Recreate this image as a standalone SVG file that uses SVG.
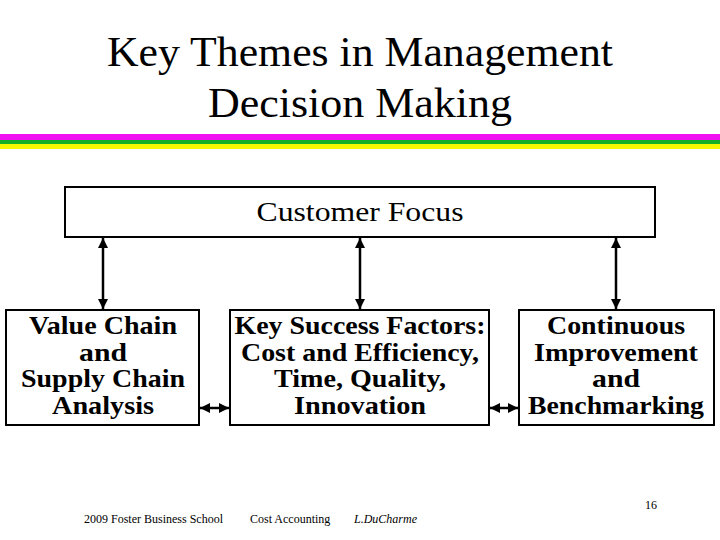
<svg xmlns="http://www.w3.org/2000/svg" width="720" height="540" viewBox="0 0 720 540">
<style>
.box{fill:#fff;stroke:#000;stroke-width:2}
.t{font-family:"Liberation Serif",serif;fill:#000;text-anchor:middle}
.b{font-weight:bold;font-size:25px}
.c line{stroke:#000;stroke-width:2.5}
.f{font-family:"Liberation Serif",serif;font-size:12px}
</style>
<defs><marker id="a" viewBox="0 0 10 10" refX="10" refY="5" markerWidth="4" markerHeight="4" orient="auto-start-reverse"><path d="M0,0L10,5L0,10z"/></marker></defs>
<rect width="720" height="540" fill="#fff"/>
<text class="t" x="360" y="66" font-size="42" textLength="506" lengthAdjust="spacingAndGlyphs">Key Themes in Management</text>
<text class="t" x="360" y="117" font-size="42" textLength="304" lengthAdjust="spacingAndGlyphs">Decision Making</text>
<rect x="0" y="134" width="720" height="6" fill="#f010f0"/>
<rect x="0" y="140" width="720" height="4" fill="#18b028"/>
<rect x="0" y="144" width="720" height="5" fill="#f8f800"/>
<g id="customer"><rect class="box" x="65" y="187" width="590" height="50"/><text class="t" x="360" y="221" font-size="27" textLength="207" lengthAdjust="spacingAndGlyphs">Customer Focus</text></g>
<g id="value"><rect class="box" x="6" y="310" width="193" height="115"/><text class="t b" x="103" y="334" textLength="148" lengthAdjust="spacingAndGlyphs">Value Chain</text><text class="t b" x="103" y="361" textLength="48" lengthAdjust="spacingAndGlyphs">and</text><text class="t b" x="103" y="387" textLength="164" lengthAdjust="spacingAndGlyphs">Supply Chain</text><text class="t b" x="103" y="414" textLength="102" lengthAdjust="spacingAndGlyphs">Analysis</text></g>
<g id="ksf"><rect class="box" x="230" y="310" width="259" height="115"/><text class="t b" x="360" y="334" textLength="251" lengthAdjust="spacingAndGlyphs">Key Success Factors:</text><text class="t b" x="360" y="361" textLength="238" lengthAdjust="spacingAndGlyphs">Cost and Efficiency,</text><text class="t b" x="360" y="387" textLength="172" lengthAdjust="spacingAndGlyphs">Time, Quality,</text><text class="t b" x="360" y="414" textLength="132" lengthAdjust="spacingAndGlyphs">Innovation</text></g>
<g id="ci"><rect class="box" x="519" y="310" width="195" height="115"/><text class="t b" x="616" y="334" textLength="138" lengthAdjust="spacingAndGlyphs">Continuous</text><text class="t b" x="616" y="361" textLength="164" lengthAdjust="spacingAndGlyphs">Improvement</text><text class="t b" x="616" y="387" textLength="48" lengthAdjust="spacingAndGlyphs">and</text><text class="t b" x="616" y="414" textLength="176" lengthAdjust="spacingAndGlyphs">Benchmarking</text></g>
<g class="c">
<line x1="103" y1="238" x2="103" y2="309" marker-start="url(#a)" marker-end="url(#a)"/>
<line x1="360" y1="238" x2="360" y2="309" marker-start="url(#a)" marker-end="url(#a)"/>
<line x1="616" y1="238" x2="616" y2="309" marker-start="url(#a)" marker-end="url(#a)"/>
<line x1="200" y1="408" x2="229" y2="408" marker-start="url(#a)" marker-end="url(#a)"/>
<line x1="490" y1="408" x2="518" y2="408" marker-start="url(#a)" marker-end="url(#a)"/>
</g>
<text class="f" x="84" y="523">2009   Foster Business School</text>
<text class="f" x="250" y="523">Cost Accounting</text>
<text class="f" x="354" y="523" font-style="italic">L.DuCharme</text>
<text class="f" x="645" y="509">16</text>
</svg>
